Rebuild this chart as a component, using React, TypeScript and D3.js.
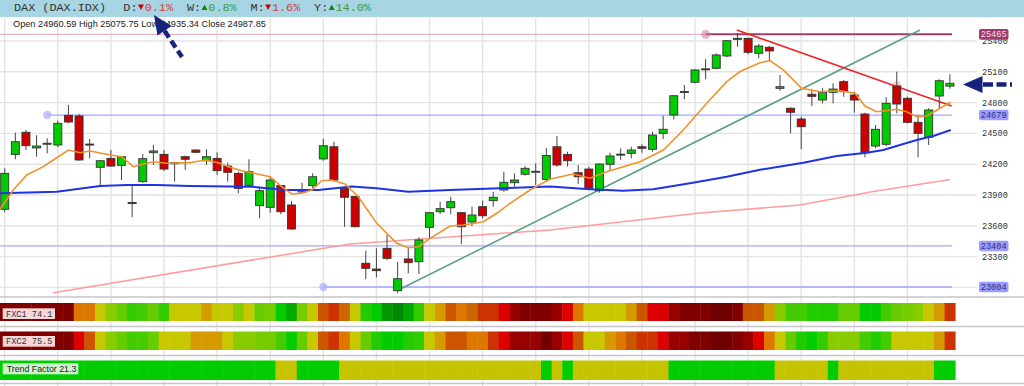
import React from 'react';
import * as d3 from 'd3';

// ---------- data ----------
const candleOpen = [
  23761, 24296, 24511, 24358, 24397, 24387, 24676, 24670, 24396, 24170,
  24257, 24189, 23827, 24030, 24312, 24296, 24210, 24273, 24338, 24234,
  24257, 24182, 24111, 23995, 23796, 23780, 23991, 23803, 23929, 23991,
  24251, 24370, 23965, 23885, 23235, 23179, 23381, 22968, 23277, 23250,
  23585, 23737, 23776, 23728, 23637, 23786, 23845, 23949, 24020, 24102,
  24124, 24051, 24370, 24296, 24117, 24153, 23942, 24199, 24294, 24306,
  24370, 24345, 24501, 24679, 24904, 24998, 25125, 25134, 25254, 25420,
  25426, 25280, 25339, 24939, 24745, 24640, 24881, 24825, 24900, 25004,
  24874, 24689, 24377, 24394, 24962, 24842, 24608, 24462, 24864, 24960.59,
];
const candleHigh = [
  24160, 24507, 24533, 24482, 24452, 24624, 24777, 24689, 24445, 24236,
  24338, 24280, 23988, 24299, 24387, 24338, 24224, 24283, 24345, 24345,
  24316, 24215, 24127, 24248, 23981, 24085, 23997, 23842, 24020, 24111,
  24448, 24419, 23968, 23890, 23357, 23381, 23510, 23247, 23391, 23488,
  23731, 23835, 23883, 23731, 23786, 23845, 23932, 24127, 24111, 24182,
  24209, 24358, 24475, 24322, 24192, 24176, 24209, 24312, 24355, 24370,
  24394, 24517, 24672, 24874, 24971, 25124, 25222, 25280, 25410, 25478,
  25432, 25371, 25351, 25069, 24754, 24663, 24930, 24939, 24988, 25020,
  24906, 24702, 24582, 24852, 25101, 24857, 24679, 24745, 25027, 25075.75,
];
const candleLow = [
  23734, 24248, 24338, 24273, 24306, 24365, 24598, 24234, 24257, 23981,
  24176, 24046, 23683, 24020, 24192, 24134, 24030, 24144, 24306, 24192,
  24095, 24030, 23917, 23981, 23673, 23728, 23712, 23559, 23922, 23965,
  24234, 24030, 23591, 23585, 23079, 23098, 23267, 22943, 23137, 23131,
  23478, 23715, 23712, 23423, 23598, 23673, 23786, 23932, 23981, 24088,
  23997, 24027, 24176, 24176, 24007, 23949, 23922, 24144, 24241, 24257,
  24312, 24322, 24445, 24637, 24832, 24988, 25027, 25124, 25241, 25344,
  25270, 25231, 25208, 24916, 24501, 24345, 24767, 24793, 24793, 24857,
  24702, 24267, 24355, 24377, 24696, 24598, 24267, 24387, 24745, 24935.34,
];
const candleClose = [
  24111, 24419, 24380, 24377, 24404, 24598, 24611, 24241, 24392, 24234,
  24182, 24273, 23823, 24254, 24329, 24153, 24214, 24248, 24316, 24273,
  24137, 24121, 23965, 24127, 23942, 24046, 23737, 23569, 23949, 24078,
  24380, 24046, 23878, 23591, 23186, 23163, 23283, 23085, 23241, 23462,
  23728, 23767, 23835, 23591, 23705, 23698, 23878, 24024, 24046, 24160,
  24131, 24285, 24192, 24234, 24078, 23965, 24202, 24280, 24298, 24338,
  24355, 24484, 24540, 24867, 24908, 25118, 25129, 25264, 25403, 25426,
  25290, 25351, 25303, 24955, 24706, 24565, 24861, 24900, 24932, 24906,
  24825, 24312, 24540, 24793, 24786, 24608, 24501, 24728, 25013, 24987.85,
];

const yTicks = [23000, 23300, 23600, 23900, 24200, 24500, 24800, 25100, 25400];

const pivotLevels = [25465, 24679, 23404, 23004];
const pivotStartIdx = [66, 4, -1, 30];

// short moving average [candle index, price]
const maShort: [number, number][] = [
  [-0.44, 23764], [0.81, 23949], [2.07, 24095], [3.63, 24176], [4.58, 24241], [5.99, 24338],
  [7.09, 24312], [8.03, 24329], [9.92, 24290], [11.02, 24273], [12.11, 24176], [13.05, 24202],
  [13.99, 24224], [15.25, 24209], [17.45, 24215], [18.86, 24241], [20.11, 24215], [21.05, 24176],
  [22.32, 24137], [23.26, 24117], [24.98, 24078], [26.08, 23981], [27.02, 23910], [27.97, 23917],
  [28.91, 23949], [29.85, 24039], [30.79, 24046], [32.04, 24007], [33.3, 23883], [35.03, 23624],
  [36.91, 23430], [38.0, 23387], [38.95, 23396], [40.05, 23478], [41.93, 23598], [43.18, 23608],
  [45.07, 23640], [46.33, 23722], [47.58, 23819], [49.46, 23949], [51.35, 24056], [53.54, 24105],
  [55.11, 24063], [56.68, 24127], [59.82, 24224], [62.02, 24338], [63.9, 24533], [66.1, 24793],
  [67.99, 25004], [69.24, 25103], [71.12, 25189], [72.06, 25208], [73.31, 25118], [75.04, 24939],
  [76.76, 24906], [78.65, 24916], [80.06, 24891], [81.0, 24767], [82.1, 24711], [83.99, 24735],
  [84.93, 24711], [85.87, 24663], [86.81, 24670], [88.07, 24745], [89.08, 24803],
];
// medium moving average
const maMid: [number, number][] = [
  [-0.44, 23917], [4.9, 23932], [8.97, 23988], [11.49, 23997], [14.31, 23997], [17.45, 23988],
  [23.26, 23981], [26.39, 23949], [29.53, 23949], [32.67, 23983], [35.03, 23965], [38.0, 23932],
  [41.93, 23949], [46.64, 23965], [51.35, 23983], [55.11, 23956], [58.25, 23942], [61.07, 23956],
  [64.53, 24014], [67.99, 24078], [71.12, 24146], [75.2, 24215], [78.34, 24280], [81.17, 24312],
  [82.73, 24338], [85.87, 24436], [87.44, 24475], [89.08, 24533],
];
// long moving average
const maLong: [number, number][] = [
  [4.58, 22948], [32.51, 23423], [51.35, 23559], [65.47, 23725], [74.89, 23803], [81.5, 23929], [89.02, 24051],
];

const trendUp: [number, number][] = [[37.06, 22975], [86.19, 25507]];
const trendDown: [number, number][] = [[68.93, 25507], [89.17, 24767]];
const trendTouch: [number, number] = [84, 24971];

// indicator strips: one colour code per candle
const fxc1Codes = 'bbbbbbbggyikmlkmyyyhyyiykjopjyfesynoPqpmyhfgseedcbbbcdgyyyyhfddcbbbaabffhillnnnkkoolkjiyhe';
const fxc2Codes = 'bbbbbbbdfyikllkyyyhhhyiijjlokyfegyknoonmyhffggedcccacdfyyhgfeedccbbaabcdgyknomiiilnlyyyyhe';
const trendRuns: [string, number][] = [
  ['o', 26], ['Y', 2], ['o', 4], ['Y', 19], ['o', 1], ['Y', 1], ['o', 1], ['Y', 9],
  ['o', 10], ['Y', 5], ['o', 1], ['Y', 9], ['o', 2],
];

const periodLabels = ['D', 'W', 'M', 'Y'];
const periodChange = [-0.1, 0.8, -1.6, 14.0];

const fxc1Value = 74.1;
const fxc2Value = 75.5;
const trendValue = 21.3;

const palette: Record<string, string> = {
  a: '#700000', b: '#800000', c: '#990000', d: '#dd0000', e: '#cc3300', f: '#cc5500',
  s: '#cc6600', g: '#dd7700', h: '#d49a00', y: '#c8c800', i: '#88cc00', j: '#77cc00',
  k: '#66cc00', l: '#44cc00', m: '#33cc00', n: '#22cc00', o: '#00cc00', p: '#00aa00',
  P: '#009900', q: '#008800', Y: '#c6c400',
};

// ---------- layout ----------
const W = 1024;
const H = 386;
const plotRight = 955.6;
const plotTop = 17;
const plotBottom = 296;

export default function App() {
  const n = candleOpen.length;
  const x = d3.scaleLinear().domain([0, n - 1]).range([4.7, 949.9]);
  const step = x(1) - x(0);
  const y = d3.scaleLinear().domain([23000, 25500]).range([41 + 2400 * 0.10267, 41 - 100 * 0.10267]);
  const line = d3.line<[number, number]>().x((d) => x(d[0])).y((d) => y(d[1]));

  const trendCodes: string[] = [];
  trendRuns.forEach(([c, k]) => { for (let j = 0; j < k; j++) trendCodes.push(c); });

  const strip = (codes: string[], top: number, h: number, key: string) =>
    codes.slice(0, n).map((c, i) => {
      const x0 = Math.max(0, x(i) - step / 2);
      const x1 = Math.min(plotRight, x(i) + step / 2);
      return <rect key={key + i} x={x0} y={top} width={x1 - x0 + 0.4} height={h} fill={palette[c]} />;
    });

  const gridX = d3.range(0, n, 5);
  const last = n - 1;
  const info = `Open ${candleOpen[last].toFixed(2)}  High ${candleHigh[last].toFixed(2)}  Low ${candleLow[last].toFixed(2)}  Close ${candleClose[last].toFixed(2)}`;

  // upper arrow geometry
  const tip = [154, 15];
  const tail = [182, 57];
  const len = Math.hypot(tail[0] - tip[0], tail[1] - tip[1]);
  const ux = (tail[0] - tip[0]) / len, uy = (tail[1] - tip[1]) / len;
  const hb = [tip[0] + ux * 19, tip[1] + uy * 19];
  const px = uy, py = -ux;

  const navy = '#16237a';

  return (
    <svg width={W} height={H} style={{ position: 'absolute', left: 0, top: 0, background: '#fff' }}>
      <defs>
        <clipPath id="plot">
          <rect x={0} y={plotTop} width={plotRight} height={plotBottom - plotTop} />
        </clipPath>
      </defs>

      {/* vertical grid */}
      {gridX.map((i) => (
        <line key={'gx' + i} x1={x(i)} x2={x(i)} y1={plotTop + 1} y2={H} stroke="#e3e3e3" strokeWidth={1.4} />
      ))}
      {/* horizontal grid */}
      {yTicks.map((t) => (
        <line key={'gy' + t} x1={0} x2={977} y1={y(t)} y2={y(t)} stroke="#e3e3e3" strokeWidth={1.4} />
      ))}

      {/* header */}
      <rect x={0} y={0} width={W} height={17} fill="#a8d5e4" />
      <text x={14} y={10.6} fontFamily="Liberation Mono" fontSize={11.8} fill="#333">DAX (DAX.IDX)</text>
      {periodLabels.map((p, k) => {
        const bx = 123.3 + 63.6 * k;
        const up = periodChange[k] >= 0;
        const tx = bx + 17.6;
        return (
          <g key={'p' + p}>
            <text x={bx} y={10.6} fontFamily="Liberation Mono" fontSize={11.8} fill="#333">{p}:</text>
            <path
              d={up ? `M${tx - 3},10 L${tx + 3},10 L${tx},4.6 Z` : `M${tx - 3},4.6 L${tx + 3},4.6 L${tx},10 Z`}
              fill={up ? '#0a8a0a' : '#cc0000'}
            />
            <text x={bx + 21.4} y={10.6} fontFamily="Liberation Mono" fontSize={11.8} fill={up ? '#3a9a3a' : '#d04040'}>
              {Math.abs(periodChange[k]).toFixed(1)}%
            </text>
          </g>
        );
      })}
      <text x={13} y={26.7} fontFamily="Liberation Sans" fontSize={9.2} fill="#222" xmlSpace="preserve">{info.replace(/  /g, ' ')}</text>

      <g clipPath="url(#plot)">
        {/* pivot levels */}
        <line x1={0} x2={x(pivotStartIdx[0])} y1={y(pivotLevels[0])} y2={y(pivotLevels[0])} stroke="#e4b4c8" strokeWidth={1.4} />
        <line x1={x(pivotStartIdx[0])} x2={952} y1={y(pivotLevels[0])} y2={y(pivotLevels[0])} stroke="#a03c6c" strokeWidth={2} />
        <circle cx={x(pivotStartIdx[0])} cy={y(pivotLevels[0])} r={4.5} fill="#c77a9c" opacity={0.55} />
        {pivotLevels.slice(1).map((lv, k) => {
          const s = pivotStartIdx[k + 1];
          const x0 = s < 0 ? 0 : x(s);
          return (
            <g key={'pv' + lv}>
              <line x1={x0} x2={952} y1={y(lv)} y2={y(lv)} stroke="#a6a6ff" strokeWidth={1.3} />
              {s >= 0 && <circle cx={x0} cy={y(lv)} r={4.2} fill="#b4b4ff" opacity={0.8} />}
            </g>
          );
        })}

        {/* long MA */}
        <path d={line(maLong) || ''} fill="none" stroke="#ff9c9c" strokeWidth={1.6} />
        {/* trendlines */}
        <path d={line(trendUp) || ''} fill="none" stroke="#5f9f8a" strokeWidth={1.6} />
        <path d={line(trendDown) || ''} fill="none" stroke="#ee2626" strokeWidth={1.6} />
        <circle cx={x(trendTouch[0])} cy={y(trendTouch[1])} r={4} fill="#ff8f8f" opacity={0.45} />

        {/* candles */}
        {candleOpen.map((o, i) => {
          const c = candleClose[i];
          const upC = c >= o;
          const yt = y(Math.max(o, c));
          const yb = y(Math.min(o, c));
          const cx = x(i);
          return (
            <g key={'c' + i}>
              <line x1={cx} x2={cx} y1={y(candleHigh[i])} y2={y(candleLow[i])} stroke="#444" strokeWidth={1} />
              <rect
                x={cx - 4}
                y={yt}
                width={8}
                height={Math.max(1, yb - yt)}
                fill={upC ? '#00cc00' : '#cc0000'}
                stroke="#333"
                strokeWidth={0.9}
              />
            </g>
          );
        })}

        {/* medium and short MA */}
        <path d={line(maMid) || ''} fill="none" stroke="#1f33e6" strokeWidth={2} />
        <path d={line(maShort) || ''} fill="none" stroke="#f0922a" strokeWidth={1.6} />
      </g>

      {/* axis labels */}
      {yTicks.map((t) => (
        <text key={'yt' + t} x={982} y={y(t) + 0.8} dominantBaseline="middle" fontFamily="Liberation Mono" fontSize={8.6} fill="#333">
          {t}
        </text>
      ))}
      {pivotLevels.map((lv, k) => (
        <g key={'pl' + lv}>
          <rect x={979} y={y(lv) - 5.3} width={29.5} height={10.6} rx={2} fill={k === 0 ? '#a03c6c' : '#9c9cff'} />
          <text x={993.7} y={y(lv) + 0.6} textAnchor="middle" dominantBaseline="middle" fontFamily="Liberation Mono" fontSize={8.6} fill={k === 0 ? '#f6dfe9' : '#2f2f80'}>
            {lv}
          </text>
        </g>
      ))}

      {/* panel separators */}
      {[297, 326.5, 355.5, 383.5].map((yy) => (
        <line key={'sep' + yy} x1={0} x2={W} y1={yy} y2={yy} stroke="#c6c6c6" strokeWidth={1.5} />
      ))}

      {/* indicator strips */}
      {strip(fxc1Codes.split(''), 303, 18, 'f1')}
      {strip(fxc2Codes.split(''), 331.5, 18.5, 'f2')}
      {strip(trendCodes, 360.5, 19.5, 'tf')}

      <rect x={2.7} y={308.3} width={52.3} height={10.7} fill="#f6d6d6" />
      <text x={6} y={316.6} fontFamily="Liberation Mono" fontSize={8.6} fill="#333">FXC1 {fxc1Value.toFixed(1)}</text>
      <rect x={2.7} y={336} width={52.3} height={10.7} fill="#f6d6d6" />
      <text x={6} y={344.3} fontFamily="Liberation Mono" fontSize={8.6} fill="#333">FXC2 {fxc2Value.toFixed(1)}</text>
      <rect x={2.7} y={363.3} width={75.6} height={11} fill="#ccf4cc" />
      <text x={6.7} y={372} fontFamily="Liberation Sans" fontSize={8.8} fill="#222">Trend Factor {trendValue.toFixed(1)}</text>

      {/* annotation arrows */}
      <line x1={hb[0]} y1={hb[1]} x2={tail[0]} y2={tail[1]} stroke={navy} strokeWidth={4.5} strokeDasharray="8 4" />
      <path
        d={`M${tip[0]},${tip[1]} L${hb[0] + px * 8.5},${hb[1] + py * 8.5} L${hb[0] - px * 8.5},${hb[1] - py * 8.5} Z`}
        fill={navy}
      />
      <line x1={983} y1={84.5} x2={1012} y2={84.5} stroke={navy} strokeWidth={4.5} strokeDasharray="10 3.5" />
      <path d="M963,84.5 L982.5,76 L982.5,93 Z" fill={navy} />
    </svg>
  );
}
